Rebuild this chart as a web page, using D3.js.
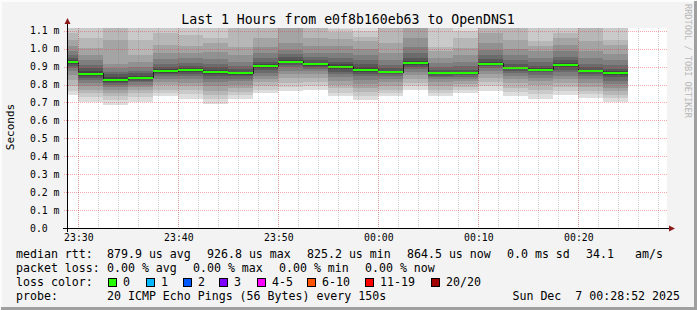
<!DOCTYPE html>
<html>
<head>
<meta charset="utf-8">
<script src="https://cdn.jsdelivr.net/npm/d3@7"></script>
<style>
  body { margin: 0; background: #fff; }
  text { font-family: "DejaVu Sans Mono", monospace; }
</style>
</head>
<body>
<div id="main"></div>
<script>
// data (values in ms)
var title = "Last 1 Hours from e0f8b160eb63 to OpenDNS1";
var medians = [0.924, 0.861, 0.826, 0.838, 0.873, 0.879, 0.868, 0.862, 0.901, 0.927, 0.912, 0.898,
               0.883, 0.868, 0.918, 0.862, 0.862, 0.915, 0.892, 0.883, 0.907, 0.873, 0.8645];
// 20 sorted ping rtts per 150s step
var pings = [
  [0.743,0.762,0.790,0.827,0.855,0.873,0.892,0.905,0.914,0.921,0.927,0.934,0.948,0.965,0.985,1.012,1.050,1.088,1.140,1.220],
  [0.703,0.728,0.753,0.771,0.790,0.809,0.827,0.838,0.847,0.856,0.866,0.874,0.892,0.911,0.939,0.967,1.004,1.060,1.120,1.180],
  [0.688,0.712,0.735,0.755,0.772,0.784,0.795,0.806,0.815,0.822,0.832,0.842,0.857,0.872,0.890,0.915,1.050,1.130,1.180,1.250],
  [0.702,0.728,0.750,0.768,0.785,0.800,0.812,0.822,0.830,0.835,0.841,0.848,0.862,0.878,0.897,0.925,0.965,1.050,1.130,1.200],
  [0.734,0.752,0.772,0.795,0.815,0.832,0.846,0.857,0.865,0.870,0.876,0.884,0.897,0.915,0.940,0.975,1.020,1.085,1.150,1.230],
  [0.721,0.745,0.768,0.790,0.810,0.828,0.845,0.858,0.868,0.875,0.883,0.892,0.905,0.922,0.945,0.975,1.015,1.078,1.140,1.210],
  [0.693,0.718,0.742,0.765,0.790,0.812,0.830,0.845,0.856,0.864,0.872,0.880,0.895,0.915,0.942,0.980,1.030,1.060,1.140,1.220],
  [0.721,0.740,0.760,0.780,0.800,0.818,0.833,0.845,0.853,0.859,0.865,0.872,0.885,0.902,0.928,0.962,1.010,1.130,1.190,1.260],
  [0.753,0.772,0.792,0.812,0.832,0.850,0.866,0.880,0.890,0.897,0.905,0.913,0.928,0.948,0.975,1.010,1.060,1.125,1.180,1.260],
  [0.762,0.785,0.810,0.835,0.858,0.878,0.895,0.908,0.918,0.924,0.930,0.938,0.952,0.970,0.995,1.030,1.125,1.170,1.220,1.300],
  [0.771,0.792,0.815,0.838,0.858,0.875,0.888,0.898,0.905,0.909,0.915,0.922,0.935,0.952,0.978,1.012,1.060,1.130,1.180,1.250],
  [0.734,0.755,0.778,0.800,0.822,0.842,0.858,0.872,0.884,0.893,0.903,0.912,0.928,0.950,0.978,1.012,1.055,1.090,1.110,1.200],
  [0.716,0.738,0.760,0.782,0.805,0.826,0.845,0.860,0.872,0.879,0.887,0.896,0.912,0.935,0.965,1.000,1.040,1.065,1.100,1.160],
  [0.734,0.752,0.772,0.792,0.812,0.830,0.845,0.856,0.862,0.866,0.870,0.876,0.890,0.910,0.938,0.975,1.030,1.125,1.170,1.240],
  [0.771,0.790,0.810,0.832,0.852,0.870,0.886,0.898,0.908,0.914,0.922,0.932,0.950,0.975,1.010,1.060,1.125,1.160,1.210,1.280],
  [0.734,0.752,0.772,0.792,0.812,0.828,0.840,0.850,0.856,0.860,0.864,0.870,0.882,0.900,0.922,0.950,0.985,1.010,1.120,1.180],
  [0.753,0.768,0.785,0.802,0.818,0.832,0.843,0.851,0.857,0.860,0.864,0.870,0.883,0.902,0.928,0.962,1.005,1.060,1.100,1.170],
  [0.766,0.790,0.815,0.838,0.858,0.875,0.890,0.902,0.910,0.913,0.917,0.925,0.940,0.962,0.990,1.030,1.085,1.130,1.180,1.250],
  [0.734,0.758,0.782,0.806,0.828,0.848,0.864,0.877,0.886,0.890,0.894,0.900,0.915,0.935,0.962,1.000,1.050,1.125,1.180,1.240],
  [0.721,0.745,0.770,0.795,0.818,0.838,0.855,0.868,0.877,0.881,0.885,0.892,0.905,0.925,0.950,0.985,1.013,1.040,1.120,1.180],
  [0.740,0.762,0.785,0.808,0.830,0.850,0.868,0.883,0.895,0.903,0.911,0.920,0.935,0.955,0.985,1.020,1.060,1.085,1.130,1.200],
  [0.725,0.745,0.765,0.788,0.810,0.830,0.848,0.860,0.867,0.871,0.875,0.882,0.895,0.915,0.945,0.985,1.040,1.125,1.180,1.240],
  [0.703,0.722,0.742,0.762,0.782,0.802,0.822,0.840,0.854,0.862,0.867,0.874,0.888,0.908,0.935,0.972,1.020,1.050,1.130,1.200]
];
var yTicks = [0, 0.1, 0.2, 0.3, 0.4, 0.5, 0.6, 0.7, 0.8, 0.9, 1.0, 1.1];
var lossColors = ["#26ff00", "#00b8ff", "#0059ff", "#7e00ff", "#ff00ff", "#ff5500", "#ff0000", "#a10000"];
var lossLabels = ["0", "1", "2", "3", "4-5", "6-10", "11-19", "20/20"];
var rttStats = ["879.9 us avg", "926.8 us max", "825.2 us min", "864.5 us now", "0.0 ms sd", "34.1", "am/s"];
var lossStats = ["0.00 % avg", "0.00 % max", "0.00 % min", "0.00 % now"];
var probeText = "20 ICMP Echo Pings (56 Bytes) every 150s";
var stamp = "Sun Dec  7 00:28:52 2025";

// utils
function transform(x, y) { return "translate(" + x + "," + y + ")"; }

var W = 697, H = 310;
// plot box (don't call it "top": window.top is read-only)
var pL = 67, pR = 667, pT = 28, pB = 228;
var step = 150 * 1000;
var tStart = Date.UTC(2025, 11, 6, 23, 28, 52);
var firstBar = Date.UTC(2025, 11, 6, 23, 27, 30);

var x = d3.scaleUtc().domain([new Date(tStart), new Date(tStart + 3600 * 1000)]).range([pL, pR]);
var y = d3.scaleLinear().domain([0, 1.115]).range([pB, pT]);

var svg = d3.select('#main').append('svg').attr('width', W).attr('height', H);

// canvas + frame
svg.append('rect').attr('width', W).attr('height', H).attr('fill', '#f3f3f3');
svg.append('path').attr('d', 'M1,' + (H - 1) + 'V1H' + (W - 1)).attr('stroke', '#fcfcfc').attr('stroke-width', 2).attr('fill', 'none');
svg.append('path').attr('d', 'M1,' + (H - 1.5) + 'H' + (W - 1.5) + 'V1').attr('stroke', '#9f9f9f').attr('stroke-width', 3).attr('fill', 'none');

svg.append('rect').attr('x', pL).attr('y', pT).attr('width', pR - pL).attr('height', pB - pT).attr('fill', '#fff');

svg.append('clipPath').attr('id', 'plot').append('rect')
  .attr('x', pL).attr('y', pT).attr('width', pR - pL).attr('height', pB - pT);

var plot = svg.append('g').attr('clip-path', 'url(#plot)').attr('shape-rendering', 'crispEdges');

// smoke: band k spans ping k .. ping 21-k, darker towards the middle
var bars = pings.map(function(p, i) {
  return { t0: new Date(firstBar + i * step), t1: new Date(firstBar + (i + 1) * step), p: p, med: medians[i] };
});
d3.range(1, 11).forEach(function(k) {
  var c = Math.floor(190 / 10 * (10 - k)) + 50;
  var col = d3.rgb(c, c, c).formatHex();
  plot.selectAll('rect.b' + k).data(bars).enter().append('rect')
    .attr('x', function(d) { return x(d.t0); })
    .attr('width', function(d) { return x(d.t1) - x(d.t0); })
    .attr('y', function(d) { return y(d.p[20 - k]); })
    .attr('height', function(d) { return y(d.p[k - 1]) - y(d.p[20 - k]); })
    .attr('fill', col);
});

// grid on top of the smoke
var grid = svg.append('g');
var minorT = d3.utcMinute.every(2).range(x.domain()[0], x.domain()[1]);
var majorT = d3.utcMinute.every(10).range(x.domain()[0], x.domain()[1]);
grid.selectAll('line.vmin').data(minorT).enter().append('line')
  .attr('x1', function(d) { return Math.round(x(d)) + 0.5; }).attr('x2', function(d) { return Math.round(x(d)) + 0.5; })
  .attr('y1', pT).attr('y2', pB)
  .attr('stroke', 'rgba(120,120,120,0.35)').attr('stroke-dasharray', '1,1');
grid.selectAll('line.vmaj').data(majorT).enter().append('line')
  .attr('x1', function(d) { return Math.round(x(d)) + 0.5; }).attr('x2', function(d) { return Math.round(x(d)) + 0.5; })
  .attr('y1', pT).attr('y2', pB + 3)
  .attr('stroke', 'rgba(225,50,50,0.33)').attr('stroke-dasharray', '1,1');
grid.selectAll('line.h').data(yTicks.slice(1)).enter().append('line')
  .attr('x1', pL - 3).attr('x2', pR)
  .attr('y1', function(d) { return Math.round(y(d)) + 0.5; }).attr('y2', function(d) { return Math.round(y(d)) + 0.5; })
  .attr('stroke', 'rgba(225,50,50,0.42)').attr('stroke-dasharray', '1,1');

// median: thin dark step line then loss-coloured segments
var medPts = bars.map(function(d) { return [d.t0, d.med]; });
medPts.push([bars[bars.length - 1].t1, bars[bars.length - 1].med]);
plot.append('path').datum(medPts)
  .attr('d', d3.line().x(function(d) { return x(d[0]); }).y(function(d) { return y(d[1]); }).curve(d3.curveStepAfter))
  .attr('fill', 'none').attr('stroke', '#202020').attr('stroke-width', 1);
plot.selectAll('rect.med').data(bars).enter().append('rect')
  .attr('x', function(d) { return x(d.t0); })
  .attr('width', function(d) { return x(d.t1) - x(d.t0); })
  .attr('y', function(d) { return Math.round(y(d.med)) - 1; })
  .attr('height', 2)
  .attr('fill', lossColors[0]);

// axes
var axes = svg.append('g');
axes.append('line').attr('x1', pL - 4).attr('x2', pR + 4).attr('y1', pB + 0.5).attr('y2', pB + 0.5).attr('stroke', '#000');
axes.append('line').attr('x1', pL + 0.5).attr('x2', pL + 0.5).attr('y1', pB + 4).attr('y2', pT - 6).attr('stroke', '#000');
axes.append('path').attr('d', 'M' + (pR + 2) + ',' + (pB - 2.5) + 'l6,3l-6,3z').attr('fill', '#8b1a1a');
axes.append('path').attr('d', 'M' + (pL - 2.5) + ',' + (pT - 4) + 'l3,-6l3,6z').attr('fill', '#8b1a1a');

var xAxis = d3.axisBottom(x).tickValues(majorT).tickFormat(d3.utcFormat('%H:%M')).tickSize(0).tickPadding(6);
var gx = svg.append('g').attr('transform', transform(0, pB)).call(xAxis);
gx.select('.domain').remove();
gx.selectAll('text').attr('font-family', '"DejaVu Sans Mono", monospace').attr('font-size', 9.8).attr('fill', '#000');

svg.append('g').selectAll('text').data(yTicks).enter().append('text')
  .attr('x', 30).attr('y', function(d) { return y(d) + 3.5; })
  .attr('font-size', 9.8).attr('fill', '#000')
  .text(function(d) { return d === 0 ? '0.0' : d3.format('.1f')(d) + ' m'; });

// titles
svg.append('text').attr('x', 348).attr('y', 24).attr('text-anchor', 'middle')
  .attr('font-size', 13.2).attr('fill', '#000').text(title);
svg.append('text').attr('transform', transform(14, 127) + ' rotate(-90)').attr('text-anchor', 'middle')
  .attr('font-size', 11).attr('fill', '#000').text('Seconds');
svg.append('text').attr('transform', transform(685, 4) + ' rotate(90)')
  .attr('font-size', 8.6).attr('fill', '#b8b8b8').text('RRDTOOL / TOBI OETIKER');

// legend
var lg = svg.append('g').attr('font-size', 11.6).attr('fill', '#000');
var rttX = [107, 207, 307, 407, 507, 586, 635];
lg.append('text').attr('x', 16).attr('y', 258).text('median rtt:');
lg.selectAll('text.r').data(rttStats).enter().append('text')
  .attr('x', function(d, i) { return rttX[i]; }).attr('y', 258).text(function(d) { return d; });
var lossX = [107, 193, 279, 365];
lg.append('text').attr('x', 16).attr('y', 272).text('packet loss:');
lg.selectAll('text.l').data(lossStats).enter().append('text')
  .attr('x', function(d, i) { return lossX[i]; }).attr('y', 272).text(function(d) { return d; });
lg.append('text').attr('x', 16).attr('y', 286).text('loss color:');
var boxX = [108, 146, 183, 219, 257, 307, 365, 431];
var keys = lg.selectAll('g.k').data(lossLabels).enter().append('g')
  .attr('transform', function(d, i) { return transform(boxX[i], 278); });
keys.append('rect').attr('x', 0.5).attr('y', 0.5).attr('width', 8).attr('height', 8)
  .attr('fill', function(d, i) { return lossColors[i]; }).attr('stroke', '#000');
keys.append('text').attr('x', 15).attr('y', 8).text(function(d) { return d; });
lg.append('text').attr('x', 16).attr('y', 300).text('probe:');
lg.append('text').attr('x', 107).attr('y', 300).text(probeText);
lg.append('text').attr('x', 680).attr('y', 300).attr('text-anchor', 'end').style('white-space', 'pre').text(stamp);
</script>
</body>
</html>
